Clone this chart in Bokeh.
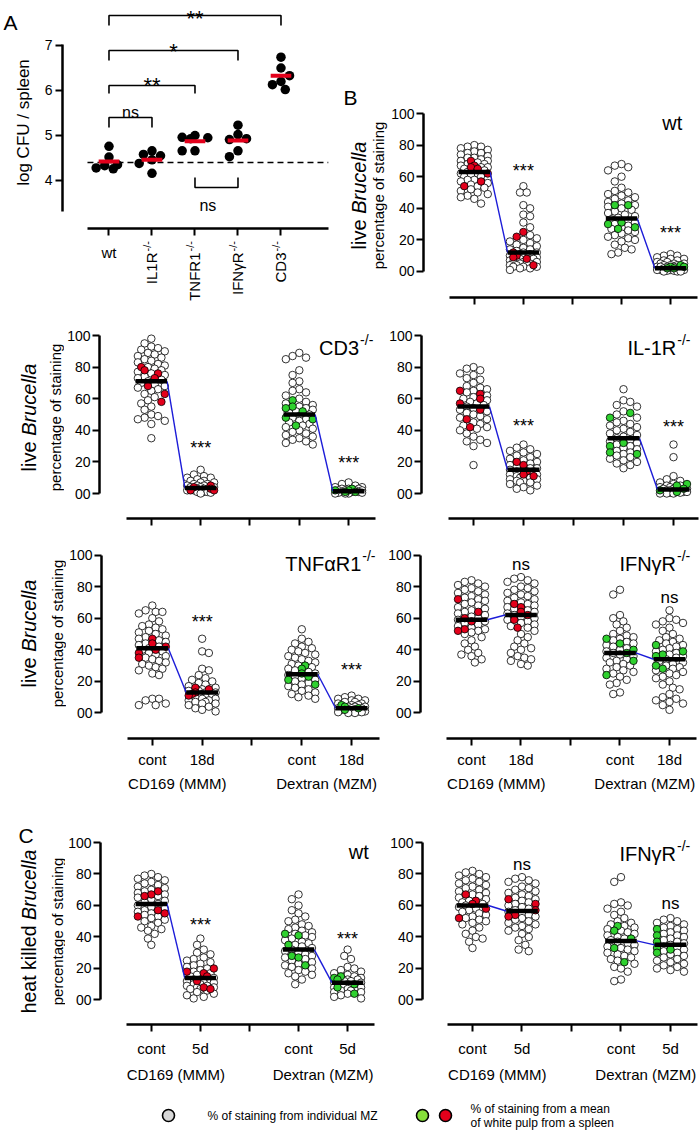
import math
import numpy as np
from bokeh.plotting import figure
from bokeh.models import Range1d, FixedTicker, Label, LinearAxis
from bokeh.layouts import column, row
from bokeh.embed import file_html
from bokeh.resources import INLINE

FONT = "Liberation Sans"
RED = "#e3001b"
GREEN = "#2fd12f"
BLUE = "#1c1cd8"

# ---------------- Panel A data (log CFU / spleen) ----------------
A_CATS = ["wt", "IL1R", "TNFR1", "IFNγR", "CD3"]
A_SUP = [None, "-/-", "-/-", "-/-", "-/-"]
a_wt = [4.76, 4.52, 4.35, 4.33, 4.28, 4.26]
a_il1r = [4.66, 4.58, 4.55, 4.46, 4.38, 4.16]
a_tnfr1 = [5.00, 4.96, 4.95, 4.93, 4.66, 4.66]
a_ifngr = [5.23, 5.02, 4.93, 4.91, 4.66, 4.53]
a_cd3 = [6.74, 6.50, 6.33, 6.20, 6.13, 6.02]
a_bar = [4.42, 4.46, 4.87, 4.89, 6.33]
a_reference_level = 4.4
# brackets: (from, to, line level, leg end, text, text x, text baseline)
a_brackets = [
    (1, 5, 7.667, 7.444, "**", 3.0, 7.59),
    (1, 4, 6.889, 6.667, "*", 2.5, 6.858),
    (1, 3, 6.111, 5.933, "**", 2.0, 6.102),
    (1, 2, 5.400, 5.178, "ns", 1.5, 5.511),
    (3, 4, 3.844, 4.067, "ns", 3.3, 3.444),
]

# ---------------- Panel B / C data (percentage of staining) ----------------
# order of groups: CD169 cont, CD169 treated, Dextran cont, Dextran treated
bwt_white = [
    [80, 79, 79, 78, 77, 76, 75, 75, 74, 73, 72, 72, 71, 70, 70, 69, 68, 68, 67, 66, 66, 65, 64, 64, 63, 62,
     62, 61, 60, 60, 59, 58, 58, 57, 56, 55, 54, 53, 52, 51, 50, 49, 48, 47, 46, 43],
    [54, 50, 50, 42, 40, 36, 35, 31, 28, 23, 21, 20, 19, 18, 17, 16, 15, 14, 14, 13, 12, 12, 11, 11, 10, 10,
     9, 9, 8, 8, 8, 7, 7, 6, 6, 6, 5, 5, 5, 4, 4, 3, 3, 3, 2, 2, 1],
    [68, 67, 66, 64, 60, 57, 53, 51, 50, 49, 48, 47, 46, 45, 44, 43, 42, 41, 40, 39, 38, 37, 36, 35, 34, 33,
     32, 31, 30, 29, 28, 27, 26, 25, 24, 23, 22, 21, 20, 19, 17, 15, 14, 12, 11],
    [11, 10, 10, 9, 8, 8, 7, 7, 6, 6, 5, 5, 5, 4, 4, 4, 3, 3, 3, 3, 2, 2, 2, 2, 1, 1, 1, 1, 0.5, 0.5, 0, 0, 0],
]
bwt_spleen = [[70, 67, 66, 65, 62, 57, 54], [25, 22, 12, 10, 9, 8, 4], [42, 42, 31, 30, 28, 27], [4, 3, 3, 2, 2]]
bwt_bar = [63, 12, 33.5, 2]

cd3_white = [
    [98, 95, 93, 92, 91, 90, 89, 88, 87, 86, 85, 84, 83, 82, 81, 80, 79, 78, 77, 76, 75, 74, 73, 72, 71, 70,
     69, 68, 67, 66, 65, 63, 61, 59, 57, 55, 53, 50, 49, 48, 47, 46, 44, 35],
    [15, 12, 11, 10, 10, 9, 8, 8, 7, 7, 6, 6, 5, 5, 5, 4, 4, 4, 3, 3, 3, 2, 2, 2, 1, 1, 1, 0.5, 0],
    [89, 87, 86, 85, 78, 75, 71, 70, 66, 65, 64, 62, 60, 58, 57, 56, 55, 54, 53, 52, 51, 50, 49, 48, 47, 46,
     45, 44, 43, 42, 41, 40, 39, 38, 37, 36, 35, 34, 33, 32, 31],
    [7, 6, 5, 4, 4, 3, 3, 3, 2, 2, 2, 2, 1, 1, 1, 1, 0.5, 0.5, 0, 0, 0],
]
cd3_spleen = [[80, 78, 76, 73, 68, 63, 58], [5, 4, 3, 2, 2], [59, 55, 54, 52, 48, 47, 43], [3, 2, 2, 1, 1]]
cd3_bar = [71, 3.5, 50, 1.5]

il1r_white = [
    [80, 79, 78, 76, 75, 73, 72, 70, 68, 67, 66, 65, 64, 62, 61, 60, 59, 58, 57, 56, 55, 54, 53, 52, 51, 50,
     49, 48, 47, 45, 44, 43, 42, 41, 40, 38, 36, 34, 33, 32, 30, 18],
    [31, 29, 28, 27, 26, 25, 24, 23, 22, 21, 20, 19, 18, 17, 16, 16, 15, 15, 14, 14, 13, 13, 12, 12, 11, 11,
     10, 10, 9, 9, 8, 8, 7, 7, 6, 5, 4, 3, 2],
    [66, 59, 58, 56, 55, 52, 50, 48, 46, 45, 44, 43, 42, 41, 40, 39, 38, 37, 36, 35, 34, 33, 32, 31, 30, 29,
     28, 27, 26, 25, 24, 23, 22, 21, 20, 19, 18, 16],
    [31, 23, 11, 9, 8, 7, 6, 5, 5, 4, 4, 3, 3, 3, 2, 2, 2, 2, 1, 1, 1, 1, 0.5, 0.5, 0, 0, 0],
]
il1r_spleen = [[65, 63, 60, 57, 53, 47, 42], [20, 18, 14, 12, 11], [51, 48, 32, 30, 26, 25], [6, 5, 3, 2, 1]]
il1r_bar = [55, 15, 35, 2.5]

tnf_white = [
    [68, 65, 64, 64, 63, 60, 58, 56, 55, 54, 53, 52, 51, 50, 49, 48, 47, 46, 45, 44, 43, 42, 41, 40, 39, 38,
     37, 36, 35, 34, 33, 32, 31, 30, 29, 28, 27, 25, 24, 9, 9, 8, 6, 5, 5],
    [47, 39, 38, 28, 27, 24, 22, 21, 20, 19, 18, 17, 16, 15, 14, 14, 13, 13, 12, 12, 11, 11, 10, 10, 9, 9,
     8, 8, 7, 7, 6, 6, 5, 4, 3, 2, 1],
    [53, 47, 45, 44, 42, 41, 40, 39, 38, 37, 36, 35, 34, 33, 32, 31, 30, 29, 28, 27, 26, 25, 24, 23, 22, 21,
     20, 19, 18, 17, 16, 15, 14, 13, 12, 11, 10, 9],
    [11, 10, 9, 9, 8, 8, 7, 7, 6, 6, 5, 5, 4, 4, 4, 3, 3, 3, 2, 2, 2, 1, 1, 1, 0.5, 0.5, 0, 0],
]
tnf_spleen = [[47, 44, 42, 40, 38, 35], [16, 15, 13, 12, 11], [30, 28, 25, 23, 21, 18], [5, 4, 3, 2]]
tnf_bar = [41, 13, 24.5, 3]

ifn_white = [
    [84, 83, 82, 81, 80, 79, 78, 77, 76, 75, 74, 73, 72, 71, 70, 69, 68, 67, 66, 65, 64, 63, 62, 61, 60, 59,
     58, 57, 56, 55, 54, 53, 52, 51, 50, 48, 46, 44, 42, 40, 38, 37, 36, 34, 32],
    [86, 85, 84, 83, 82, 80, 79, 78, 77, 76, 75, 74, 73, 72, 71, 70, 69, 68, 67, 66, 65, 64, 63, 62, 61, 60,
     59, 58, 57, 56, 55, 54, 52, 50, 48, 46, 44, 42, 41, 40, 38, 36, 35, 34, 33, 31, 30],
    [78, 75, 62, 60, 58, 56, 54, 52, 50, 49, 48, 47, 46, 45, 44, 43, 42, 41, 40, 39, 38, 37, 36, 35, 34, 33,
     32, 31, 30, 29, 28, 27, 26, 25, 23, 21, 19, 18, 13, 12],
    [65, 60, 59, 58, 57, 56, 54, 52, 50, 48, 47, 46, 45, 44, 43, 42, 41, 40, 39, 38, 37, 36, 35, 34, 33, 32,
     31, 30, 29, 28, 27, 26, 25, 24, 23, 22, 20, 18, 16, 15, 12, 10, 9, 8, 7, 6, 5, 2],
]
ifn_spleen = [[72, 64, 60, 58, 53, 52], [69, 67, 64, 62, 59, 54], [47, 44, 40, 38, 33, 24], [43, 39, 37, 36, 30, 28]]
ifn_bar = [59, 62, 38, 34]

cwt_white = [
    [80, 79, 78, 77, 76, 75, 74, 73, 72, 71, 70, 69, 68, 67, 66, 65, 64, 63, 62, 61, 60, 59, 58, 57, 56, 55,
     54, 53, 52, 51, 50, 49, 47, 46, 45, 44, 42, 39, 35],
    [39, 35, 32, 30, 29, 27, 26, 25, 24, 23, 22, 21, 20, 19, 18, 17, 16, 15, 14, 13, 13, 12, 12, 11, 11, 10,
     10, 9, 9, 8, 8, 7, 7, 6, 5, 4, 3, 2, 1],
    [67, 64, 60, 57, 55, 53, 51, 50, 48, 47, 46, 45, 44, 43, 42, 41, 40, 39, 38, 37, 36, 35, 34, 33, 32, 31,
     30, 29, 28, 27, 26, 25, 24, 23, 22, 21, 20, 19, 18, 17, 16, 15, 13, 10],
    [32, 28, 26, 21, 20, 19, 18, 17, 16, 15, 14, 13, 13, 12, 12, 11, 11, 10, 10, 9, 9, 8, 8, 7, 7, 6, 6, 5,
     5, 4, 3, 2, 1],
]
cwt_spleen = [[69, 67, 66, 57, 55, 53], [20, 18, 17, 15, 12, 8, 7], [42, 41, 35, 28, 27, 22], [15, 14, 13, 10, 8, 4]]
cwt_bar = [61, 14, 32, 11]

cifn_white = [
    [82, 81, 80, 79, 78, 77, 76, 75, 74, 73, 72, 71, 70, 69, 68, 67, 66, 65, 64, 63, 62, 61, 60, 59, 58, 57,
     56, 55, 54, 53, 52, 51, 50, 49, 48, 46, 44, 42, 40, 39, 37, 33],
    [78, 77, 76, 75, 74, 72, 71, 70, 69, 68, 67, 66, 65, 64, 63, 62, 61, 60, 59, 58, 57, 56, 55, 54, 53, 52,
     51, 50, 49, 48, 47, 46, 45, 44, 42, 40, 38, 35, 32, 31],
    [78, 75, 62, 61, 60, 58, 56, 54, 52, 50, 49, 48, 47, 46, 45, 44, 43, 42, 41, 40, 39, 38, 37, 36, 35, 34,
     33, 32, 31, 30, 29, 28, 27, 26, 25, 23, 21, 20, 18, 13, 12],
    [52, 51, 50, 49, 48, 47, 46, 45, 44, 43, 42, 41, 40, 39, 38, 37, 36, 35, 34, 33, 32, 31, 30, 29, 28, 27,
     26, 25, 24, 23, 22, 21, 20, 19, 18],
]
cifn_spleen = [[67, 63, 61, 58, 52], [64, 61, 57, 54, 53], [47, 44, 39, 33, 24], [45, 41, 37, 33, 32, 30]]
cifn_bar = [60, 56.5, 37.5, 35]

Y_TICKS = [0, 20, 40, 60, 80, 100]
GROUP_X = [1, 2, 4, 5]
X_TICKS = [1, 2, 3, 4, 5]

# ---------------- helpers ----------------
AW = {' ': 278, '%': 889, '(': 333, ')': 333, '*': 389, '-': 333, '/': 278,
      'A': 667, 'B': 667, 'C': 722, 'D': 722, 'F': 611, 'I': 278, 'L': 556, 'M': 833, 'N': 722,
      'R': 722, 'T': 611, 'U': 722, 'Z': 611, 'a': 556, 'c': 500, 'd': 556, 'e': 556, 'f': 278,
      'g': 556, 'h': 556, 'i': 222, 'k': 500, 'l': 222, 'm': 833, 'n': 556, 'o': 556, 'p': 556,
      'r': 333, 's': 500, 't': 278, 'u': 556, 'v': 500, 'w': 722, 'α': 578, 'γ': 500}


def tw(s, size):
    return sum(AW.get(c, 556) for c in s) * size / 1000.0


def make_fig(w, h, mb, xr, yr, axes=True):
    kw = {} if axes else dict(x_axis_type=None, y_axis_type=None)
    p = figure(width=w, height=h, x_range=Range1d(*xr), y_range=Range1d(*yr),
               output_backend="svg", toolbar_location=None, title=None,
               min_border_left=mb[0], min_border_right=mb[1],
               min_border_top=mb[2], min_border_bottom=mb[3], **kw)
    p.frame_align = False
    for g in p.grid:
        g.visible = False
    p.outline_line_color = None
    p.background_fill_color = "white"
    p.border_fill_color = "white"
    return p


def text_fig(x0, w, y0, h):
    # blank strip whose coordinates are the page pixel positions
    return make_fig(w, h, (0, 0, 0, 0), (x0, x0 + w), (y0 + h, y0), axes=False)


def style_axis(ax, ticks, bounds, labels, size, standoff):
    ax.ticker = FixedTicker(ticks=ticks)
    ax.bounds = bounds
    ax.major_label_overrides = labels
    ax.axis_line_width = 2.5
    ax.axis_line_color = "black"
    ax.major_tick_line_width = 2
    ax.major_tick_line_color = "black"
    ax.major_tick_out = 7
    ax.major_tick_in = 0
    ax.minor_tick_line_color = None
    ax.major_label_text_font = FONT
    ax.major_label_text_font_size = size
    ax.major_label_text_color = "black"
    ax.major_label_standoff = standoff


def label(p, text, x, y, size, align="center", base="alphabetic", angle=0.0, style="normal",
          xo=0, yo=0):
    p.add_layout(Label(x=x, y=y, text=text, text_font=FONT,
                       text_font_size=f"{size}px", text_align=align, text_baseline=base,
                       angle=angle, text_font_style=style, x_offset=xo, y_offset=yo,
                       text_color="black"))


def swarm(vals, ypx, xpx, diam, half_px, overlap=0.88):
    vals = np.asarray(vals, dtype=float)
    order = np.argsort(-vals, kind="stable")
    step = diam * 0.45
    nmax = int(half_px // step)
    placed = []
    offs = np.zeros(len(vals))
    for k, i in enumerate(order):
        y = vals[i] * ypx
        sgn = 1 if k % 2 == 0 else -1
        cands = [0.0]
        for j in range(1, nmax + 1):
            cands += [sgn * j * step, -sgn * j * step]
        best, best_clear, chosen = 0.0, -1.0, None
        for c in cands:
            clear = min((math.hypot(c - px, y - py) for py, px in placed[-40:]), default=1e9)
            if clear >= overlap * diam:
                chosen = c
                break
            if clear > best_clear:
                best_clear, best = clear, c
        if chosen is None:
            chosen = best
        placed.append((y, chosen))
        offs[i] = chosen / xpx
    return offs


def title_sup(p, main, sup, x, y, size=20, sup_size=14):
    sw = tw(sup, sup_size) + 1 if sup else 0
    label(p, main, x, y, size, align="right", xo=-sw)
    if sup:
        label(p, sup, x, y, sup_size, align="right", yo=8)


def vertical_label(p, parts, x, yc, size):
    widths = [tw(t, size) for t, _ in parts]
    start = -sum(widths) / 2.0
    for (t, st), w in zip(parts, widths):
        label(p, t, x, yc, size, align="left", base="middle", angle=math.pi / 2, style=st, yo=start)
        start += w


def stain_panel(geo, white, spleen, bars, dot_color, title, marks, xlabels=None):
    w, h, mb, xr, yr, ypx, xpx = geo
    p = make_fig(w, h, mb, xr, yr)
    style_axis(p.yaxis[0], Y_TICKS, (0, 100), {0: "00"}, "14px", 2)
    if xlabels is None:
        style_axis(p.xaxis[0], X_TICKS, (0.5, 5.55), {t: "" for t in X_TICKS}, "1px", 0)
    else:
        ticks_lab, group_lab, standoff, standoff2 = xlabels
        style_axis(p.xaxis[0], X_TICKS, (0.5, 5.55), dict(zip(X_TICKS, ticks_lab)), "15px", standoff)
        ax2 = LinearAxis(ticker=FixedTicker(ticks=[g for g, _ in group_lab]),
                         major_label_overrides={g: t for g, t in group_lab})
        ax2.axis_line_color = None
        ax2.major_tick_line_color = None
        ax2.minor_tick_line_color = None
        ax2.major_tick_out = 0
        ax2.minor_tick_out = 0
        ax2.major_tick_in = 0
        ax2.minor_tick_in = 0
        ax2.major_label_text_font = FONT
        ax2.major_label_text_font_size = "15px"
        ax2.major_label_text_color = "black"
        ax2.major_label_standoff = standoff2
        p.add_layout(ax2, "below")
    for gi, gx in enumerate(GROUP_X):
        vals = list(white[gi]) + list(spleen[gi])
        offs = swarm(vals, ypx, xpx, 7.5, 16)
        nw = len(white[gi])
        p.scatter([gx + o for o in offs[:nw]], white[gi], size=7.5, fill_color="white",
                  line_color="black", line_width=0.8)
        p.scatter([gx + o for o in offs[nw:]], spleen[gi], size=7.5, fill_color=dot_color[gi],
                  line_color="black", line_width=0.8)
    hw = 0.32
    for a, b in [(0, 1), (2, 3)]:
        p.line([GROUP_X[a] + hw, GROUP_X[b] - hw], [bars[a], bars[b]], line_color=BLUE, line_width=1.4)
    p.segment(x0=[g - hw for g in GROUP_X], x1=[g + hw for g in GROUP_X], y0=bars, y1=bars,
              line_color="black", line_width=4.5)
    main, sup, tx, ty = title
    title_sup(p, main, sup, tx, ty)
    for mx, my, txt, sz in marks:
        label(p, txt, mx, my, sz)
    return p


def ylabel_fig(x0, w, y0, h, parts, xb, xs, yc, letter=None, big=20):
    f = text_fig(x0, w, y0, h)
    vertical_label(f, parts, xb, yc, big)
    vertical_label(f, [("percentage of staining", "normal")], xs, yc, 15)
    if letter is not None:
        t, lx, ly = letter
        label(f, t, lx, ly, 21, align="left")
    return f


# ---------------- Panel A ----------------
pA = make_fig(304, 240, (26, 0, 0, 12), (-0.081, 6.384), (2.933, 8.0))
style_axis(pA.yaxis[0], [4, 5, 6, 7], (3.3, 7.03), {}, "14px", 3)
style_axis(pA.xaxis[0], X_TICKS, (0.5, 6.1), {t: "" for t in X_TICKS}, "1px", 0)
pA.line([0.5, 6.1], [a_reference_level, a_reference_level], line_color="black", line_width=1.5,
        line_dash="6 4")
for gi, vals in enumerate([a_wt, a_il1r, a_tnfr1, a_ifngr, a_cd3]):
    offs = swarm(vals, 45, 43, 9.5, 13, overlap=0.95)
    pA.scatter([gi + 1 + o for o in offs], vals, size=9.5, fill_color="black", line_color=None)
pA.segment(x0=[i + 1 - 0.24 for i in range(5)], x1=[i + 1 + 0.24 for i in range(5)], y0=a_bar,
           y1=a_bar, line_color=RED, line_width=4)
for x1, x2, yl, ye, txt, tx, ty in a_brackets:
    pA.line([x1, x1, x2, x2], [ye, yl, yl, ye], line_color="black", line_width=1.6)
    label(pA, txt, tx, ty, 22 if "*" in txt else 16)

# category labels under panel A (same x mapping, page pixel rows)
pAlab = make_fig(304, 78, (26, 0, 0, 0), (-0.081, 6.384), (318, 240), axes=False)
for i, (cat, sup) in enumerate(zip(A_CATS, A_SUP)):
    if sup is None:
        label(pAlab, cat, i + 1, 252, 15)
    else:
        label(pAlab, cat, i + 1, 252, 15, align="right", base="middle", angle=math.pi / 2)
        label(pAlab, sup, i + 1, 251, 11, align="left", base="middle", angle=math.pi / 2, xo=-5)

pAy = text_fig(0, 36, 0, 318)
vertical_label(pAy, [("log CFU / spleen", "normal")], 23, 122, 17)
label(pAy, "A", 3, 22, 21, align="left")

# ---------------- B / C panels ----------------
RG = [RED, RED, GREEN, GREEN]
LIVE = [("live ", "normal"), ("Brucella", "italic")]
HEAT = [("heat killed ", "normal"), ("Brucella", "italic")]
XL18 = (["cont", "18d", "", "cont", "18d"], [(1.5, "CD169 (MMM)"), (4.5, "Dextran (MZM)")], 5, 4)
XL5 = (["cont", "5d", "", "cont", "5d"], [(1.5, "CD169 (MMM)"), (4.5, "Dextran (MZM)")], 8, 6)

pBy = ylabel_fig(340, 48, 0, 318, LIVE, 358, 378, 195, letter=("B", 343, 97))
pBwt = stain_panel((312, 318, (34, 2, 100, 21), (-0.0355, 5.569), (-16.46, 108.23), 1.58, 49.25),
                   bwt_white, bwt_spleen, bwt_bar, RG, ("wt", None, 5.24, 94.3),
                   [(2, 63.9, "***", 18), (5, 24.1, "***", 18)])

pCD3y = ylabel_fig(0, 64, 318, 222, LIVE, 28, 55, 417)
pCD3 = stain_panel((316, 222, (34, 0, 8, 22), (-0.0505, 5.646), (-15.82, 105.7), 1.58, 49.5),
                   cd3_white, cd3_spleen, cd3_bar, RG, ("CD3", "-/-", 5.5, 92.4),
                   [(2, 28.5, "***", 18), (5, 19.6, "***", 18)])
pIL = stain_panel((320, 222, (41, 2, 8, 22), (-0.04, 5.5), (-15.82, 105.7), 1.58, 50),
                  il1r_white, il1r_spleen, il1r_bar, RG, ("IL-1R", "-/-", 5.34, 92.4),
                  [(2, 43, "***", 18), (5, 41.8, "***", 18)])

pTNFy = ylabel_fig(0, 66, 540, 260, LIVE, 28, 57, 633)
pTNF = stain_panel((314, 260, (34, 0, 6, 62), (-0.02, 5.58), (-16.14, 105.38), 1.58, 50),
                   tnf_white, tnf_spleen, tnf_bar, RG, ("TNFαR1", "-/-", 5.48, 94.6),
                   [(2, 57.9, "***", 18), (5, 26.9, "***", 18)], xlabels=XL18)
pIFN = stain_panel((320, 260, (40, 2, 6, 62), (-0.0303, 5.586), (-16.14, 105.38), 1.58, 49.5),
                   ifn_white, ifn_spleen, ifn_bar, RG, ("IFNγR", "-/-", 5.42, 94.6),
                   [(2, 94, "ns", 17), (5, 73, "ns", 17)], xlabels=XL18)

pCy = ylabel_fig(0, 65, 800, 285, HEAT, 28, 57, 931, letter=("C", 18, 835), big=19.5)
pCwt = stain_panel((315, 285, (34, 0, 32, 61), (-0.0355, 5.670), (-15.56, 106.35), 1.575, 49.25),
                   cwt_white, cwt_spleen, cwt_bar, RG, ("wt", None, 5.43, 93.7),
                   [(2, 47.9, "***", 18), (5, 39, "***", 18)], xlabels=XL5)
pCifn = stain_panel((320, 285, (42, 2, 32, 61), (-0.0101, 5.566), (-15.56, 106.35), 1.575, 49.5),
                    cifn_white, cifn_spleen, cifn_bar, RG, ("IFNγR", "-/-", 5.40, 93),
                    [(2, 86, "ns", 17), (5, 61.3, "ns", 17)], xlabels=XL5)

# ---------------- legend strip ----------------
pL = text_fig(0, 700, 1085, 47)
pL.scatter([168], [1115], size=12, fill_color="#d8d8d8", line_color="black", line_width=1.6)
pL.scatter([422, 445], [1115, 1115], size=12, fill_color=["#86e03a", RED], line_color="black",
           line_width=1.6)
label(pL, "% of staining from individual MZ", 207, 1115, 12, base="middle", align="left")
label(pL, "% of staining from a mean", 470, 1108, 12, base="middle", align="left")
label(pL, "of white pulp from a spleen", 470, 1122, 12, base="middle", align="left")

layout = column(
    row(pAy, column(pA, pAlab), pBy, pBwt),
    row(pCD3y, pCD3, pIL),
    row(pTNFy, pTNF, pIFN),
    row(pCy, pCwt, pCifn),
    pL,
)
open("out.html", "w").write(file_html(layout, INLINE))
